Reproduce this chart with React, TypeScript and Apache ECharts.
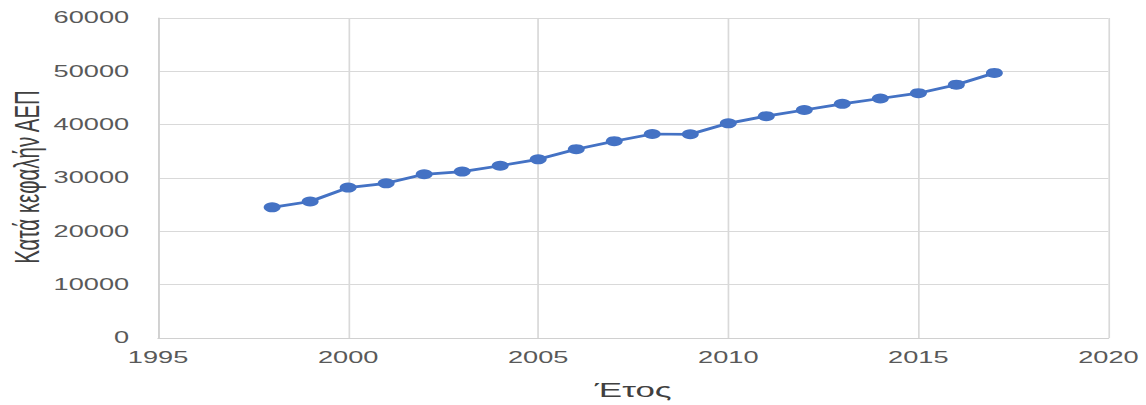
import React, { useEffect, useRef } from "react";
import * as echarts from "echarts";

// Per-capita GDP by year
const years: number[] = [
  1998, 1999, 2000, 2001, 2002, 2003, 2004, 2005, 2006, 2007,
  2008, 2009, 2010, 2011, 2012, 2013, 2014, 2015, 2016, 2017,
];
const gdpPerCapita: number[] = [
  24500, 25600, 28200, 29000, 30700, 31200, 32300, 33500, 35400, 36900,
  38250, 38200, 40250, 41600, 42750, 43900, 44900, 45900, 47500, 49700,
];

const xAxisTitle = "Έτος";
const yAxisTitle = "Κατά κεφαλήν ΑΕΠ";

// The chart is laid out narrow and widened horizontally
const STRETCH = 1.7;
const PAGE_W = 1146;
const PAGE_H = 405;

export default function App() {
  const ref = useRef<HTMLDivElement>(null);

  useEffect(() => {
    if (!ref.current) return;
    const chart = echarts.init(ref.current, undefined, { renderer: "svg" });
    const points = years.map((y, i) => [y, gdpPerCapita[i]]);
    const font = "'Liberation Sans', Arial, sans-serif";
    const plain = (v: number) => String(v);
    chart.setOption({
      animation: false,
      backgroundColor: "#ffffff",
      grid: {
        left: 93,
        right: 22,
        top: 18,
        bottom: 67,
        containLabel: false,
        outerBoundsMode: "none",
      },
      // vertical axis title, rotated to read bottom-to-top
      graphic: [
        {
          type: "text",
          x: 15.5,
          y: 177,
          rotation: Math.PI / 2,
          style: {
            text: yAxisTitle,
            fill: "#404040",
            fontSize: 20.5,
            fontFamily: font,
            align: "center",
            verticalAlign: "middle",
          },
        },
      ],
      xAxis: {
        type: "value",
        min: 1995,
        max: 2020,
        interval: 5,
        name: xAxisTitle,
        nameLocation: "middle",
        nameGap: 41,
        nameTextStyle: { color: "#404040", fontSize: 20.5, fontFamily: font },
        axisLine: { show: true, lineStyle: { color: "#d0d0d0", width: 1 } },
        axisTick: { show: false },
        axisLabel: {
          color: "#595959",
          fontSize: 16,
          fontFamily: font,
          margin: 12,
          formatter: plain,
        },
        splitLine: { show: true, lineStyle: { color: "#d9d9d9", width: 1 } },
      },
      yAxis: {
        type: "value",
        min: 0,
        max: 60000,
        interval: 10000,
        axisLine: { show: true, lineStyle: { color: "#d0d0d0", width: 1 } },
        axisTick: { show: false },
        axisLabel: {
          color: "#595959",
          fontSize: 16,
          fontFamily: font,
          margin: 17,
          formatter: plain,
        },
        splitLine: { show: true, lineStyle: { color: "#d9d9d9", width: 1 } },
      },
      series: [
        {
          type: "line",
          data: points,
          symbol: "circle",
          symbolSize: 10,
          lineStyle: { color: "#4472C4", width: 2.75 },
          itemStyle: { color: "#4472C4" },
        },
      ],
    });
    return () => chart.dispose();
  }, []);

  return (
    <div
      style={{
        position: "fixed",
        left: 0,
        top: 0,
        width: PAGE_W,
        height: PAGE_H,
        overflow: "hidden",
        background: "#fff",
      }}
    >
      <div
        ref={ref}
        style={{
          width: PAGE_W / STRETCH,
          height: PAGE_H,
          transform: `scaleX(${STRETCH})`,
          transformOrigin: "0 0",
        }}
      />
    </div>
  );
}
